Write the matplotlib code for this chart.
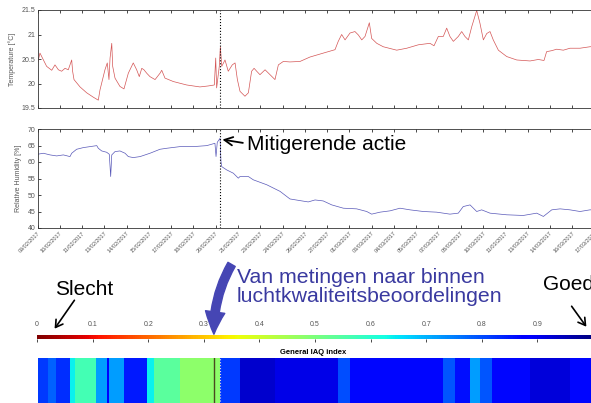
import matplotlib
matplotlib.use("Agg")
import matplotlib.pyplot as plt
from matplotlib.cm import ScalarMappable
from matplotlib.colors import Normalize
from matplotlib.patches import FancyArrowPatch

plt.rcParams['font.family'] = ['Liberation Sans', 'DejaVu Sans']

W, H = 591, 403

# x axis in days since 09/02/2017
date_labels = ["09/02/2017", "10/02/2017", "11/02/2017", "13/02/2017", "14/02/2017",
               "15/02/2017", "17/02/2017", "18/02/2017", "20/02/2017", "21/02/2017",
               "23/02/2017", "24/02/2017", "26/02/2017", "27/02/2017", "01/03/2017",
               "03/03/2017", "04/03/2017", "05/03/2017", "07/03/2017", "08/03/2017",
               "10/03/2017", "11/03/2017", "13/03/2017", "14/03/2017", "16/03/2017",
               "17/03/2017"]
tick_step = 1.44
x_max = 36.36
mitigation_day = 11.82
gap_day = 11.41

temp_days = [0.01, 0.16, 0.59, 0.92, 1.13, 1.35, 1.56, 1.78, 1.99, 2.21,
             2.27, 2.36, 2.75, 3.18, 3.61, 3.93, 4.04, 4.15, 4.36, 4.51,
             4.62, 4.69, 4.80, 4.86, 5.01, 5.33, 5.59, 5.87, 6.19, 6.41,
             6.58, 6.74, 6.88, 7.06, 7.27, 7.60, 7.92, 8.03, 8.24, 8.78,
             9.64, 10.50, 11.04, 11.43, 11.52, 11.58, 11.75, 11.82, 11.91, 12.12,
             12.33, 12.59, 12.77, 12.92, 13.09, 13.41, 13.63, 13.84, 14.00, 14.17,
             14.38, 14.71, 15.03, 15.35, 15.57, 15.89, 16.32, 16.97, 17.61, 18.47,
             19.23, 19.44, 19.66, 19.88, 20.20, 20.52, 20.74, 20.96, 21.17, 21.45,
             21.60, 21.93, 22.35, 23.22, 23.87, 24.62, 25.37, 25.63, 25.91, 26.23,
             26.45, 26.66, 26.88, 27.20, 27.42, 27.63, 27.85, 28.07, 28.39, 28.60,
             28.82, 29.04, 29.25, 29.46, 29.79, 30.33, 30.98, 31.84, 32.37, 32.74,
             32.91, 33.24, 33.56, 33.99, 34.42, 35.07, 35.71, 36.36]
temp_vals = [20.42, 20.62, 20.35, 20.27, 20.38, 20.28, 20.25, 20.31, 20.28, 20.48,
             20.25, 20.08, 19.93, 19.81, 19.72, 19.66, 19.87, 20.01, 20.28, 20.42,
             20.08, 20.52, 20.82, 20.35, 20.11, 19.94, 19.89, 20.21, 20.42, 20.28,
             20.14, 20.31, 20.28, 20.21, 20.14, 20.08, 20.21, 20.27, 20.11, 20.04,
             19.97, 19.93, 19.95, 19.97, 20.52, 19.91, 20.35, 20.75, 20.35, 20.48,
             20.25, 20.38, 20.42, 20.08, 19.84, 19.74, 19.81, 20.25, 20.31, 20.25,
             20.18, 20.28, 20.18, 20.08, 20.38, 20.45, 20.44, 20.45, 20.54, 20.62,
             20.69, 20.86, 21.00, 20.89, 21.03, 21.06, 20.99, 20.89, 20.96, 21.24,
             20.92, 20.82, 20.75, 20.68, 20.72, 20.79, 20.82, 20.77, 20.96, 20.96,
             21.13, 20.96, 20.86, 20.96, 21.06, 20.96, 20.89, 21.16, 21.49, 21.23,
             20.89, 21.02, 21.06, 20.89, 20.68, 20.55, 20.48, 20.46, 20.49, 20.47,
             20.65, 20.67, 20.70, 20.68, 20.72, 20.72, 20.75, 20.76]

rh_days = [0.01, 0.38, 0.81, 1.24, 1.67, 2.10, 2.21, 2.53, 2.96, 3.39,
           3.83, 3.93, 4.15, 4.47, 4.64, 4.73, 4.80, 5.01, 5.33, 5.66,
           5.87, 6.19, 6.63, 7.27, 7.92, 8.35, 9.21, 10.07, 10.94, 11.47,
           11.54, 11.62, 11.80, 11.86, 11.91, 12.23, 12.66, 12.98, 13.09, 13.63,
           13.95, 14.82, 15.68, 16.32, 16.97, 17.50, 17.94, 18.47, 19.02, 19.77,
           20.63, 21.28, 21.60, 22.14, 22.79, 23.43, 24.08, 24.94, 25.80, 26.66,
           27.20, 27.52, 27.96, 28.39, 28.71, 29.25, 30.33, 31.40, 32.27, 32.70,
           33.24, 33.78, 34.42, 35.07, 35.71, 36.36]
rh_vals = [62.35, 62.65, 62.15, 61.84, 62.15, 61.64, 62.65, 63.86, 64.36, 64.66,
           64.96, 64.16, 63.35, 62.95, 62.35, 55.6, 62.15, 63.15, 63.35, 62.65,
           61.64, 61.34, 61.64, 62.65, 63.86, 64.16, 64.66, 64.66, 64.96, 65.67,
           61.64, 65.97, 67.18, 60.13, 58.6, 57.6, 56.6, 55.1, 55.6, 55.6,
           54.6, 53.1, 51.1, 48.8, 48.3, 47.9, 48.5, 48.2, 47.0, 46.0,
           45.8, 45.0, 44.2, 44.8, 45.2, 46.0, 45.5, 45.0, 44.8, 44.2,
           44.5, 46.5, 47.0, 45.0, 45.5, 44.5, 44.0, 43.8, 44.5, 43.5,
           45.5, 45.8, 45.5, 45.0, 45.5, 45.5]

iaq_edges = [0, 0.7, 1.2, 2.1, 2.42, 3.78, 4.49, 4.62, 5.59, 7.08, 7.53, 9.21, 11.8,
             13.09, 15.35, 19.42, 20.2, 26.2, 26.99, 27.96, 28.6, 29.38, 31.84, 34.42, 36.36]
iaq_vals = [0.82, 0.78, 0.83, 0.64, 0.57, 0.72, 0.88, 0.72, 0.85, 0.64, 0.54, 0.48,
            0.82, 0.93, 0.91, 0.8, 0.87, 0.79, 0.86, 0.72, 0.79, 0.87, 0.92, 0.87]

temp_ticks = [19.5, 20, 20.5, 21, 21.5]
rh_ticks = [40, 45, 50, 55, 60, 65, 70]
cbar_ticks = [0, 0.1, 0.2, 0.3, 0.4, 0.5, 0.6, 0.7, 0.8, 0.9]


def fx(px):
    return px / W


def fy(py):
    return 1 - py / H


def style_axes(ax):
    for s in ax.spines.values():
        s.set_linewidth(0.6)
        s.set_color('#333333')
    ax.tick_params(direction='in', length=2.5, width=0.5, top=True, right=True,
                   labelsize=5, labelcolor='#555555', pad=1.5)


fig = plt.figure(figsize=(W / 100, H / 100), dpi=100)
x_ticks = [tick_step * k for k in range(len(date_labels))]
left = fx(37.5)
width = fx(600) - left

ax1 = fig.add_axes([left, fy(108), width, fy(10) - fy(108)])
ax1.plot(temp_days, temp_vals, color='#d45555', lw=0.5)
ax1.axvline(mitigation_day, color='k', ls=':', lw=0.8)
ax1.set_xlim(0, x_max)
ax1.set_ylim(19.5, 21.5)
ax1.set_xticks(x_ticks)
ax1.set_xticklabels([])
ax1.set_yticks(temp_ticks)
ax1.set_yticklabels(['%g' % t for t in temp_ticks])
ax1.set_ylabel('Temperature [°C]', fontsize=5, color='#555555', labelpad=4)
style_axes(ax1)

ax2 = fig.add_axes([left, fy(228), width, fy(129) - fy(228)])
ax2.plot(rh_days, rh_vals, color='#5858b8', lw=0.5)
ax2.axvline(mitigation_day, color='k', ls=':', lw=0.8)
ax2.set_xlim(0, x_max)
ax2.set_ylim(40, 70)
ax2.set_xticks(x_ticks)
ax2.set_xticklabels(date_labels, rotation=45, ha='right', rotation_mode='anchor', fontsize=4)
ax2.set_yticks(rh_ticks)
ax2.set_ylabel('Relative Humidity [%]', fontsize=5, color='#555555', labelpad=4)
style_axes(ax2)
ax2.tick_params(axis='x', labelsize=4, pad=2)

ax2.annotate('Mitigerende actie', xy=(11.95, 66.8), xytext=(fx(247), fy(150)),
             textcoords='figure fraction', fontsize=15, va='baseline',
             arrowprops=dict(arrowstyle='->', lw=1.3, color='black', relpos=(0, 0.55),
                             shrinkA=1, shrinkB=0))

# annotations between the plots and the index bar
fig.text(fx(55), fy(295), 'Slecht', fontsize=15, va='baseline')
fig.text(fx(543), fy(290), 'Goed', fontsize=15, va='baseline')
fig.text(fx(237), fy(283), 'Van metingen naar binnen', fontsize=15.3, va='baseline', color='#3a3aa0')
fig.text(fx(237), fy(302), 'luchtkwaliteitsbeoordelingen', fontsize=15.3, va='baseline', color='#3a3aa0')

fig.add_artist(FancyArrowPatch((fx(76), fy(298)), (fx(53), fy(331)), transform=fig.transFigure,
                               arrowstyle='->,head_length=5,head_width=3', lw=1.2, color='k'))
fig.add_artist(FancyArrowPatch((fx(570), fy(304)), (fx(588), fy(329)), transform=fig.transFigure,
                               arrowstyle='->,head_length=5,head_width=3', lw=1.2, color='k'))
fig.add_artist(FancyArrowPatch((fx(233), fy(262)), (fx(214), fy(337)), transform=fig.transFigure,
                               connectionstyle='arc3,rad=0.15',
                               arrowstyle='simple,head_width=14,head_length=16,tail_width=6',
                               color='#4646b4'))

cax = fig.add_axes([fx(37), fy(338.5), fx(593) - fx(37), fy(334.5) - fy(338.5)])
cb = fig.colorbar(ScalarMappable(norm=Normalize(0, 1), cmap='jet_r'), cax=cax,
                  orientation='horizontal')
cb.outline.set_visible(False)
cb.set_ticks(cbar_ticks)
cb.set_ticklabels(['%g' % t for t in cbar_ticks])
cax.tick_params(top=False, labeltop=True, bottom=True, labelbottom=False, length=2,
                width=0.5, labelsize=5, labelcolor='#555555', pad=3)

ax4 = fig.add_axes([left, fy(420), width, fy(358) - fy(420)])
ax4.pcolormesh(iaq_edges, [0, 1], [iaq_vals], cmap='jet_r', vmin=0, vmax=1)
ax4.axvline(gap_day, color='#4a4a20', lw=1.0)
ax4.axvline(mitigation_day, color='#dddddd', ls=':', lw=0.8)
ax4.set_xlim(0, x_max)
ax4.set_ylim(0, 1)
ax4.set_xticks([])
ax4.set_yticks([])
for s in ax4.spines.values():
    s.set_visible(False)
fig.text(fx(313), fy(352), 'General IAQ index', fontsize=5.5, fontweight='bold',
         ha='center', va='center')

fig.savefig('out.png', dpi=100)
